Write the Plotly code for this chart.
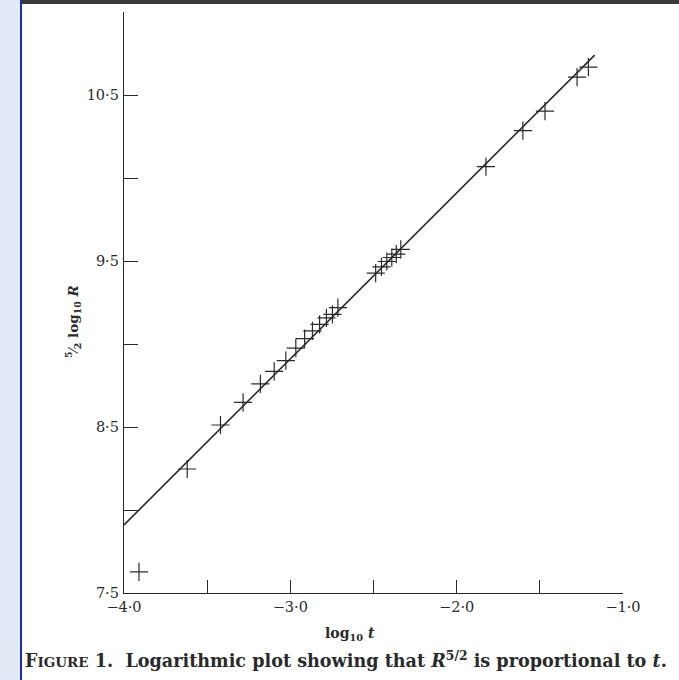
import plotly.graph_objects as go

# log10 t (t in seconds) and (5/2) log10 R (R in cm)
log_t = [-3.91, -3.620, -3.420, -3.284, -3.180, -3.097, -3.027, -2.967, -2.914,
         -2.867, -2.824, -2.783, -2.747, -2.714, -2.487, -2.452, -2.420, -2.390,
         -2.363, -2.336, -1.824, -1.602, -1.469, -1.276, -1.208]
log_R = [7.627, 8.247, 8.512, 8.648, 8.760, 8.835, 8.900, 8.975, 9.032,
         9.079, 9.118, 9.157, 9.178, 9.219, 9.427, 9.465, 9.497, 9.521,
         9.542, 9.570, 10.068, 10.285, 10.403, 10.608, 10.668]

fit_x = [-4.0, -1.17]
fit_y = [7.91, 10.74]

x_tickvals = [-4.0, -3.0, -2.0, -1.0]
x_ticktext = ["−4·0", "−3·0", "−2·0", "−1·0"]
x_minor_vals = [-3.5, -2.5, -1.5]
y_tickvals = [7.5, 8.5, 9.5, 10.5]
y_ticktext = ["7·5", "8·5", "9·5", "10·5"]
y_minor_vals = [8.0, 9.0, 10.0, 11.0]

SERIF = "DejaVu Serif, Liberation Serif, serif"
INK = "#2a2a2a"

L, T, W, H = 124, 12, 499, 581


def px(x):
    return (x - L) / W


def py(y):
    return (T + H - y) / H


fig = go.Figure()
fig.add_trace(go.Scatter(x=fit_x, y=fit_y, mode="lines",
                         line=dict(color=INK, width=1.6), hoverinfo="skip"))
fig.add_trace(go.Scatter(x=log_t, y=log_R, mode="markers",
                         marker=dict(symbol="cross-thin", size=13,
                                     line=dict(color=INK, width=1.2))))

fig.update_layout(
    width=679, height=680,
    margin=dict(l=L, r=679 - L - W, t=T, b=680 - T - H),
    paper_bgcolor="white", plot_bgcolor="white",
    showlegend=False,
    font=dict(family=SERIF, color=INK, size=14),
    xaxis=dict(range=[-4.0, -1.0], tickvals=x_tickvals, ticktext=x_ticktext,
               ticks="inside", ticklen=13, tickwidth=1.2, tickcolor=INK,
               minor=dict(tickmode="array", tickvals=x_minor_vals, ticks="inside",
                          ticklen=13, tickwidth=1.2, tickcolor=INK, showgrid=False),
               showline=True, linecolor=INK, linewidth=1.3, showgrid=False,
               zeroline=False, tickfont=dict(size=14.5, family=SERIF)),
    yaxis=dict(range=[7.5, 11.0], tickvals=y_tickvals, ticktext=y_ticktext,
               ticks="inside", ticklen=14, tickwidth=1.2, tickcolor=INK,
               minor=dict(tickmode="array", tickvals=y_minor_vals, ticks="inside",
                          ticklen=14, tickwidth=1.2, tickcolor=INK, showgrid=False),
               showline=True, linecolor=INK, linewidth=1.3, showgrid=False,
               zeroline=False, ticklabelstandoff=1,
               tickfont=dict(size=14.5, family=SERIF)),
    shapes=[
        dict(type="rect", xref="paper", yref="paper",
             x0=px(0), x1=px(20), y0=py(680), y1=py(0),
             fillcolor="#e2eaf5", line=dict(width=0), layer="below"),
        dict(type="rect", xref="paper", yref="paper",
             x0=px(20), x1=px(22), y0=py(680), y1=py(0),
             fillcolor="#1c2db0", line=dict(width=0), layer="below"),
        dict(type="rect", xref="paper", yref="paper",
             x0=px(22), x1=px(679), y0=py(4), y1=py(0),
             fillcolor="#3a3a3a", line=dict(width=0), layer="below"),
    ],
    annotations=[
        dict(text="<b><sup>5</sup>⁄<sub>2</sub> log<sub>10</sub> <i>R</i></b>",
             xref="paper", yref="paper", x=px(73), y=py(322),
             textangle=-90, showarrow=False, font=dict(size=13.5, family=SERIF),
             xanchor="center", yanchor="middle"),
        dict(text="<b>log<sub>10</sub> <i>t</i></b>",
             xref="paper", yref="paper", x=px(350), y=py(634),
             showarrow=False, font=dict(size=14, family=SERIF),
             xanchor="center", yanchor="middle"),
        dict(text="<b>F<span style='font-size:13.5px'>IGURE</span> 1.  Logarithmic plot showing that "
                  "<i>R</i><sup>5/2</sup> is proportional to <i>t</i>.</b>",
             xref="paper", yref="paper", x=px(23), y=py(659),
             showarrow=False, font=dict(size=17.6, family=SERIF),
             xanchor="left", yanchor="middle"),
    ],
)

fig.write_html("out.html",
               config={"displayModeBar": False},
               post_script="document.body.style.margin='0';"
                           "document.body.style.overflow='hidden';")
